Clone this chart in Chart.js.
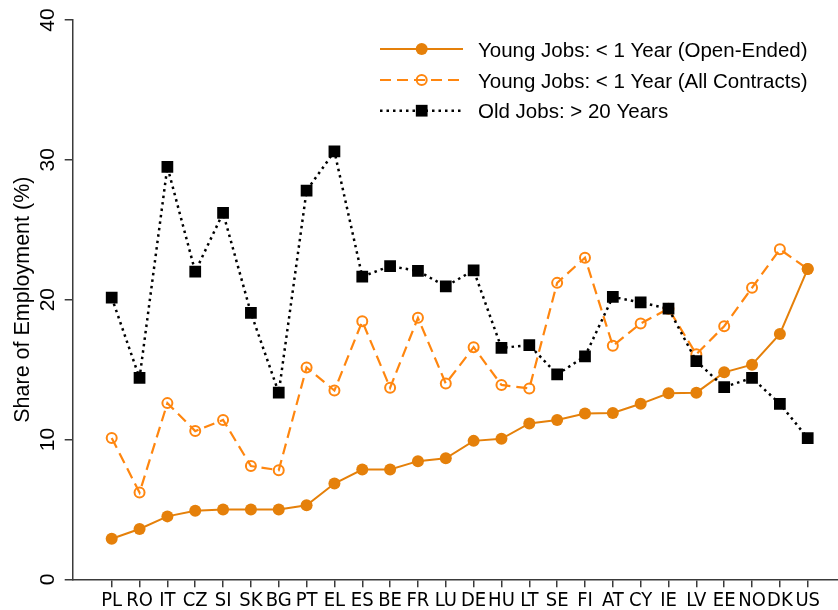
<!DOCTYPE html>
<html>
<head>
<meta charset="utf-8">
<script src="https://cdn.jsdelivr.net/npm/chart.js@4/dist/chart.umd.min.js"></script>
<style>
html, body { margin: 0; padding: 0; background: #fff; }
canvas { display: block; }
</style>
</head>
<body>
<canvas id="chart" width="838" height="610"></canvas>
<script>
let countries = ["PL", "RO", "IT", "CZ", "SI", "SK", "BG", "PT", "EL", "ES", "BE", "FR", "LU",
    "DE", "HU", "LT", "SE", "FI", "AT", "CY", "IE", "LV", "EE", "NO", "DK", "US"];

let openEnded = [2.9, 3.6, 4.5, 4.9, 5.0, 5.0, 5.0, 5.3, 6.85, 7.85, 7.85, 8.45, 8.65,
    9.9, 10.05, 11.15, 11.4, 11.85, 11.9, 12.55, 13.3, 13.35, 14.8, 15.35, 17.55, 22.2];
let allContracts = [10.1, 6.2, 12.6, 10.6, 11.4, 8.1, 7.8, 15.15, 13.5, 18.45, 13.7, 18.7, 14.0,
    16.6, 13.9, 13.65, 21.2, 23.0, 16.7, 18.3, 19.35, 16.1, 18.1, 20.85, 23.6, 22.2];
let oldJobs = [20.15, 14.4, 29.5, 22.0, 26.2, 19.05, 13.35, 27.8, 30.6, 21.65, 22.4, 22.05, 20.95,
    22.1, 16.55, 16.75, 14.65, 15.95, 20.2, 19.8, 19.35, 15.6, 13.75, 14.4, 12.55, 10.1];

let seriesLabels = ["Young Jobs: < 1 Year (Open-Ended)", "Young Jobs: < 1 Year (All Contracts)", "Old Jobs: > 20 Years"];
let yTicks = [0, 10, 20, 30, 40];
let yTitle = "Share of Employment (%)";

let orange = "#e5800a";
let lightOrange = "#ff860f";
let axisColor = "#3a3a3a";
let font = "'Liberation Sans', Arial, sans-serif";

function toPoints(values) {
    return values.map((v, i) => ({ x: i, y: v }));
}

let datasets = [
    {
        label: seriesLabels[0],
        data: toPoints(openEnded),
        borderColor: orange,
        borderWidth: 2,
        pointStyle: "circle",
        pointRadius: 6,
        pointBorderWidth: 0,
        pointBackgroundColor: orange,
        order: 1
    },
    {
        label: seriesLabels[1],
        data: toPoints(allContracts),
        borderColor: lightOrange,
        borderWidth: 2.2,
        borderDash: [11, 6],
        pointStyle: "circle",
        pointRadius: 5,
        pointBorderWidth: 2,
        pointBorderColor: lightOrange,
        pointBackgroundColor: "rgba(0,0,0,0)",
        order: 2
    },
    {
        label: seriesLabels[2],
        data: toPoints(oldJobs),
        borderColor: "#000",
        borderWidth: 2.5,
        borderDash: [2.5, 4],
        pointStyle: "rect",
        pointRadius: 8.3,
        pointBorderWidth: 0,
        pointBackgroundColor: "#000",
        order: 0
    }
];

function drawMarker(ctx, ds, x, y) {
    ctx.save();
    ctx.setLineDash([]);
    if (ds.pointStyle === "rect") {
        let s = Math.SQRT1_2 * ds.pointRadius;
        ctx.fillStyle = ds.pointBackgroundColor;
        ctx.fillRect(x - s, y - s, 2 * s, 2 * s);
    } else {
        ctx.beginPath();
        ctx.arc(x, y, ds.pointRadius, 0, Math.PI * 2);
        ctx.fillStyle = ds.pointBackgroundColor;
        ctx.fill();
        if (ds.pointBorderWidth) {
            ctx.lineWidth = ds.pointBorderWidth;
            ctx.strokeStyle = ds.pointBorderColor;
            ctx.stroke();
        }
    }
    ctx.restore();
}

let extras = {
    id: "extras",
    afterDraw(chart) {
        let ctx = chart.ctx;
        let yScale = chart.scales.y;
        ctx.save();
        ctx.fillStyle = "#000";

        // rotated y tick labels
        ctx.font = "21px " + font;
        ctx.textAlign = "center";
        ctx.textBaseline = "alphabetic";
        yTicks.forEach(v => {
            let py = yScale.getPixelForValue(v);
            ctx.save();
            ctx.translate(53.5, py);
            ctx.rotate(-Math.PI / 2);
            ctx.fillText(String(v), 0, 0);
            ctx.restore();
        });

        // y axis title
        ctx.font = "21.5px " + font;
        ctx.save();
        ctx.translate(28.5, (chart.chartArea.top + chart.chartArea.bottom) / 2);
        ctx.rotate(-Math.PI / 2);
        ctx.fillText(yTitle, 0, 0);
        ctx.restore();

        // legend
        let rows = [49, 80, 110.7];
        ctx.font = "20.5px " + font;
        ctx.textAlign = "left";
        chart.data.datasets.forEach((ds, i) => {
            let ry = rows[i];
            ctx.save();
            ctx.strokeStyle = ds.borderColor;
            ctx.lineWidth = ds.borderWidth;
            ctx.setLineDash(ds.borderDash || []);
            ctx.beginPath();
            ctx.moveTo(380, ry);
            ctx.lineTo(463, ry);
            ctx.stroke();
            ctx.restore();
            drawMarker(ctx, ds, 421.7, ry);
            ctx.fillText(ds.label, 478, ry + 7.5);
        });
        ctx.restore();
    }
};

let chart = new Chart(document.getElementById("chart"), {
    type: "line",
    data: { datasets: datasets },
    options: {
        responsive: false,
        animation: false,
        layout: { autoPadding: false, padding: { top: 20, right: 0, bottom: 0, left: 0 } },
        plugins: {
            legend: { display: false },
            tooltip: { enabled: false }
        },
        scales: {
            x: {
                type: "linear",
                min: -1.401,
                max: 26.088,
                afterBuildTicks: (scale) => {
                    scale.ticks = countries.map((c, i) => ({ value: i }));
                },
                afterFit: (scale) => {
                    scale.height = 30.7;
                    scale.paddingLeft = 0;
                    scale.paddingRight = 0;
                },
                ticks: {
                    autoSkip: false,
                    maxRotation: 0,
                    minRotation: 0,
                    padding: 1,
                    color: "#000",
                    font: { family: "'Liberation Sans Narrow', 'DejaVu Sans Condensed', sans-serif", size: 20 },
                    callback: (v) => countries[v]
                },
                grid: {
                    drawOnChartArea: false,
                    drawTicks: true,
                    tickLength: 8,
                    color: axisColor,
                    lineWidth: 1.5
                },
                border: { display: true, color: axisColor, width: 1.5 }
            },
            y: {
                min: 0,
                max: 40,
                afterBuildTicks: (scale) => {
                    scale.ticks = yTicks.map(v => ({ value: v }));
                },
                afterFit: (scale) => {
                    scale.width = 72.7;
                    scale.paddingTop = 0;
                    scale.paddingBottom = 0;
                },
                ticks: { display: false },
                grid: {
                    drawOnChartArea: false,
                    drawTicks: true,
                    tickLength: 8,
                    color: axisColor,
                    lineWidth: 1.5
                },
                border: { display: true, color: axisColor, width: 1.5 }
            }
        }
    },
    plugins: [extras]
});
</script>
</body>
</html>
